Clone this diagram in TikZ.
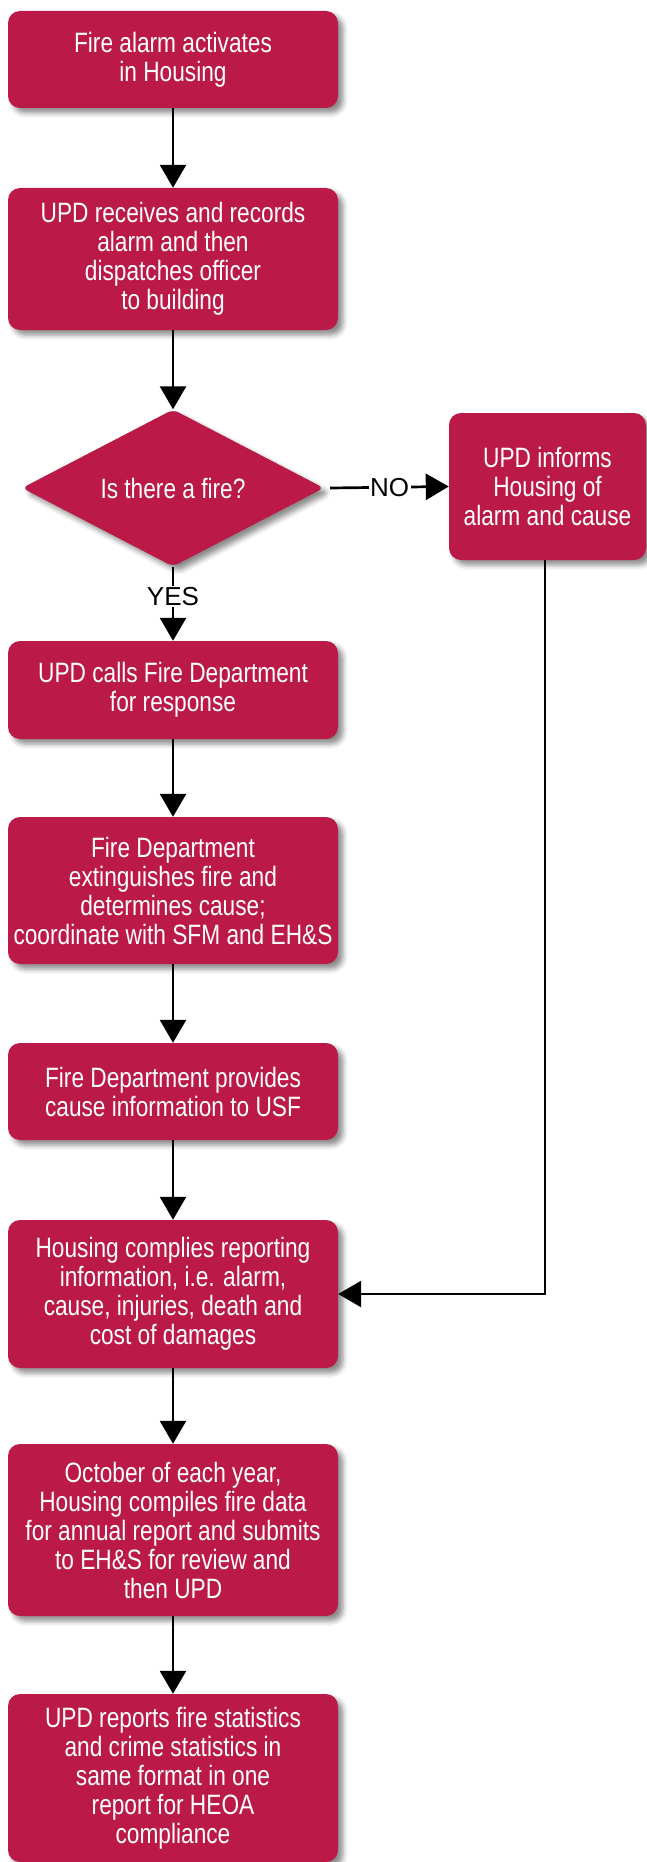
\documentclass[tikz,border=0pt]{standalone}
\usepackage{fontspec}
\setmainfont{Liberation Sans}[FakeStretch=0.81]
\newfontfamily\lblfont{Liberation Sans}
\usetikzlibrary{shapes.geometric,arrows.meta,shadows.blur}
\definecolor{crim}{RGB}{187,25,72}
\begin{document}
\begin{tikzpicture}[x=1pt,y=-1pt,
  every node/.style={font=\fontsize{28}{29}\selectfont},
  boxstyle/.style={rectangle, rounded corners=12pt, fill=crim, text=white, align=center,
     minimum width=330pt, inner sep=0pt,
     blur shadow={shadow xshift=5pt, shadow yshift=-5pt, shadow blur radius=5pt, shadow opacity=45}},
  decstyle/.style={diamond, rounded corners=6pt, fill=crim, text=white, align=center,
     minimum width=302pt, minimum height=157pt, aspect=1.92, inner sep=0pt,
     blur shadow={shadow xshift=5pt, shadow yshift=-5pt, shadow blur radius=5pt, shadow opacity=45}},
  conn/.style={line width=2.7pt, draw=black, -{Triangle[length=23pt 0 0,width=26pt 0]}},
  lbl/.style={fill=white, inner sep=1.5pt, text=black, font=\lblfont\fontsize{26}{27}\selectfont}
]
\useasboundingbox (0,0) rectangle (646,1862);
\node[boxstyle, minimum height=97pt] (b1) at (173,59.5) {Fire alarm activates\\in Housing};
\node[boxstyle, minimum height=142pt] (b2) at (173,259) {UPD receives and records\\alarm and then\\dispatches officer\\to building};
\node[decstyle] (d) at (173,488) {Is there a fire?};
\node[boxstyle, minimum width=197pt, minimum height=147pt] (r) at (547.5,486.5) {UPD informs\\Housing of\\alarm and cause};
\node[boxstyle, minimum height=98pt] (b3) at (173,690) {UPD calls Fire Department\\for response};
\node[boxstyle, minimum height=147pt] (b4) at (173,890.5) {Fire Department\\extinguishes fire and\\determines cause;\\coordinate with SFM and EH\&S};
\node[boxstyle, minimum height=97pt] (b5) at (173,1091.5) {Fire Department provides\\cause information to USF};
\node[boxstyle, minimum height=148pt] (b6) at (173,1294) {Housing complies reporting\\information, i.e. alarm,\\cause, injuries, death and\\cost of damages};
\node[boxstyle, minimum height=172pt] (b7) at (173,1530) {October of each year,\\Housing compiles fire data\\for annual report and submits\\to EH\&S for review and\\then UPD};
\node[boxstyle, minimum height=168pt] (b8) at (173,1778) {UPD reports fire statistics\\and crime statistics in\\same format in one\\report for HEOA\\compliance};
\draw[conn] (b1) -- (b2);
\draw[conn] (b2) -- (d);
\draw[conn] (d.east) ++(6pt,0) -- node[lbl] {NO} (r.west);
\draw[conn] (d) -- node[lbl, pos=0.4] {YES} (b3);
\draw[conn] (b3) -- (b4);
\draw[conn] (b4) -- (b5);
\draw[conn] (b5) -- (b6);
\draw[conn] (r.south) ++(-2.5pt,0) |- (b6.east);
\draw[conn] (b6) -- (b7);
\draw[conn] (b7) -- (b8);
\end{tikzpicture}
\end{document}
